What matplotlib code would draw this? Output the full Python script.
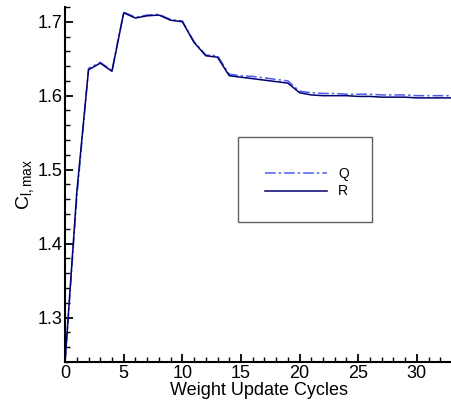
import matplotlib
matplotlib.use("Agg")
import matplotlib.pyplot as plt
from matplotlib.patches import Rectangle
from matplotlib.ticker import MultipleLocator

plt.rcParams['font.family'] = ['Liberation Sans', 'DejaVu Sans']
plt.rcParams['mathtext.fontset'] = 'custom'
plt.rcParams['mathtext.rm'] = 'Liberation Sans'
plt.rcParams['mathtext.it'] = 'Liberation Sans'

# weight update cycle index
cycles = list(range(34))

# C_l,max
q_vals = [1.240, 1.462, 1.637, 1.645, 1.634, 1.713, 1.706, 1.709, 1.710, 1.703,
          1.701, 1.673, 1.655, 1.654, 1.629, 1.627, 1.626, 1.624, 1.622, 1.620,
          1.606, 1.604, 1.603, 1.603, 1.602, 1.602, 1.602, 1.601, 1.601, 1.601,
          1.600, 1.600, 1.600, 1.600]
r_vals = [1.240, 1.470, 1.635, 1.644, 1.633, 1.712, 1.705, 1.708, 1.709, 1.702,
          1.700, 1.672, 1.654, 1.652, 1.627, 1.625, 1.623, 1.621, 1.619, 1.617,
          1.604, 1.601, 1.600, 1.600, 1.600, 1.599, 1.599, 1.598, 1.598, 1.598,
          1.597, 1.597, 1.597, 1.597]

fig = plt.figure(figsize=(4.52, 4.08), dpi=100)
ax = fig.add_axes([0.144, 0.113, 0.856, 0.870])

ax.plot(cycles, q_vals, color='#4a5cf0', lw=1.1, dashes=(7, 2, 1.5, 2), label='Q')
ax.plot(cycles, r_vals, color='#000070', lw=1.1, label='R')

ax.set_xlim(0, 33)
ax.set_ylim(1.24, 1.72)
ax.xaxis.set_major_locator(MultipleLocator(5))
ax.xaxis.set_minor_locator(MultipleLocator(1))
ax.yaxis.set_major_locator(MultipleLocator(0.1))
ax.yaxis.set_minor_locator(MultipleLocator(0.02))
ax.yaxis.set_major_formatter(plt.FormatStrFormatter('%.1f'))

ax.spines['top'].set_visible(False)
ax.spines['right'].set_visible(False)
ax.spines['left'].set_linewidth(1.5)
ax.spines['bottom'].set_linewidth(1.5)
ax.tick_params(which='major', direction='in', length=6, width=1.3, labelsize=13, pad=2)
ax.tick_params(which='minor', direction='in', length=3.5, width=1.0)

ax.set_xlabel('Weight Update Cycles', fontsize=13, labelpad=0.5)
ax.set_ylabel(r'$\mathrm{C}_{\mathrm{l,max}}$', fontsize=14, labelpad=1)

#legend frame drawn by hand, legend itself has no frame
ax.add_patch(Rectangle((0.447, 0.394), 0.346, 0.240, transform=ax.transAxes,
                       fill=False, edgecolor='#606060', lw=1.0, zorder=5))
ax.legend(loc='center', bbox_to_anchor=(0.625, 0.505), frameon=False,
          fontsize=10, handlelength=4.5, handletextpad=0.8, labelspacing=0.25)

fig.savefig('out.png', dpi=100)
